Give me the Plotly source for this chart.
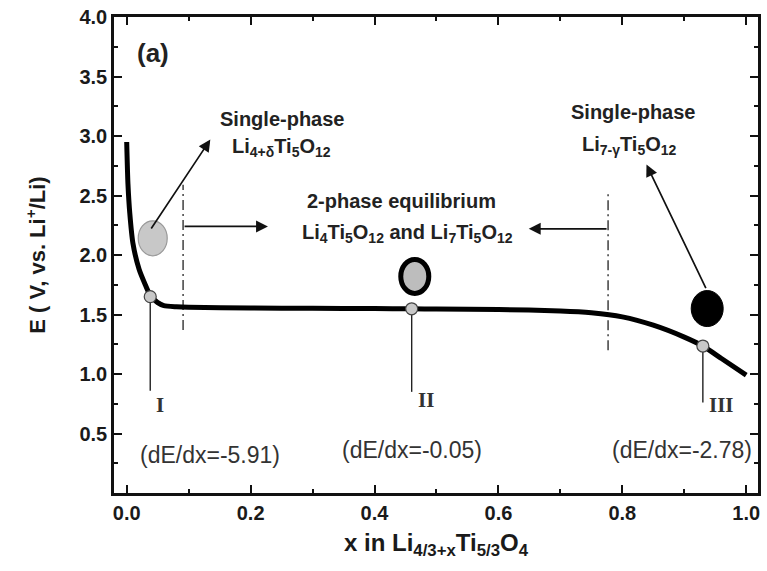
import plotly.graph_objects as go

# Discharge curve of Li4/3+x Ti5/3 O4: composition x vs. potential E
x_vals = [0.0, 0.002, 0.005, 0.01, 0.02, 0.03, 0.038, 0.05, 0.06, 0.08, 0.1,
          0.2, 0.3, 0.4, 0.46, 0.5, 0.6, 0.7, 0.75, 0.8, 0.85, 0.9, 0.93,
          0.96, 1.0]
E_vals = [2.95, 2.6, 2.35, 2.1, 1.88, 1.75, 1.66, 1.6, 1.575, 1.565, 1.56,
          1.555, 1.552, 1.55, 1.548, 1.546, 1.542, 1.53, 1.515, 1.48, 1.41,
          1.31, 1.235, 1.13, 0.99]

# Characteristic points I, II, III and their slopes
pt_labels = ["I", "II", "III"]
pt_x = [0.038, 0.46, 0.93]
pt_E = [1.65, 1.548, 1.235]
pt_line_end = [0.86, 0.85, 0.76]
pt_label_E = [0.74, 0.78, 0.74]
slopes = [-5.91, -0.05, -2.78]
slope_x = [0.134, 0.46, 0.897]
slope_E = [0.32, 0.36, 0.36]

# Phase symbols near each region
phase_x = [0.042, 0.465, 0.937]
phase_E = [2.14, 1.82, 1.55]

# Two-phase boundaries
boundary_x = [0.091, 0.777]
boundary_top = [2.59, 2.53]
boundary_bottom = [1.37, 1.2]

x_ticks = [0.0, 0.2, 0.4, 0.6, 0.8, 1.0]
y_ticks = [0.5, 1.0, 1.5, 2.0, 2.5, 3.0, 3.5, 4.0]

fig = go.Figure()

# Boundaries (dash-dot)
for bx, bt, bb in zip(boundary_x, boundary_top, boundary_bottom):
    fig.add_trace(go.Scatter(x=[bx, bx], y=[bb, bt], mode="lines",
                             line=dict(color="#222", width=1.3, dash="10px,4px,2px,4px"),
                             showlegend=False, hoverinfo="skip"))

# Drop lines from the characteristic points
for px, pe, pend in zip(pt_x, pt_E, pt_line_end):
    fig.add_trace(go.Scatter(x=[px, px], y=[pe, pend], mode="lines",
                             line=dict(color="#222", width=1.4),
                             showlegend=False, hoverinfo="skip"))

# Main curve
fig.add_trace(go.Scatter(x=x_vals, y=E_vals, mode="lines",
                         line=dict(color="black", width=5, shape="spline", smoothing=0.6),
                         showlegend=False))

# Points on the curve
fig.add_trace(go.Scatter(x=pt_x, y=pt_E, mode="markers",
                         marker=dict(size=12, color="#c8c8c8",
                                     line=dict(color="#444", width=1.2)),
                         showlegend=False))

# Phase symbols drawn as ellipses sized in pixels, anchored at data positions
phase_styles = [
    dict(fill="#c8c8c8", line="#999", lw=1.2, w=29, h=35),
    dict(fill="#bdbdbd", line="black", lw=5, w=28, h=34),
    dict(fill="black", line="black", lw=1, w=32, h=36),
]
for cx, ce, st in zip(phase_x, phase_E, phase_styles):
    fig.add_shape(type="circle", xref="x", yref="y",
                  xsizemode="pixel", ysizemode="pixel",
                  xanchor=cx, yanchor=ce,
                  x0=-st["w"] / 2, x1=st["w"] / 2, y0=-st["h"] / 2, y1=st["h"] / 2,
                  fillcolor=st["fill"], line=dict(color=st["line"], width=st["lw"]))

# Roman numeral labels
for px, lab, le in zip(pt_x, pt_labels, pt_label_E):
    fig.add_annotation(x=px, y=le, text=lab, showarrow=False, xanchor="left",
                       xshift=4,
                       font=dict(family="Liberation Serif", size=21, color="#333", weight="bold"))

# Slope labels
for sx, se, s in zip(slope_x, slope_E, slopes):
    fig.add_annotation(x=sx, y=se, text=f"(dE/dx={s:.2f})", showarrow=False,
                       font=dict(family="Liberation Sans", size=23, color="#333"))

# Arrows
arrows = [
    (0.038, 2.21, 0.135, 2.97),
    (0.091, 2.24, 0.228, 2.24),
    (0.777, 2.22, 0.649, 2.22),
    (0.936, 1.71, 0.839, 2.76),
]
for ax_, ay_, hx, hy in arrows:
    fig.add_annotation(x=hx, y=hy, ax=ax_, ay=ay_, xref="x", yref="y",
                       axref="x", ayref="y", text="", showarrow=True,
                       arrowhead=2, arrowsize=1.4, arrowwidth=1.7, arrowcolor="#111")

bold = dict(family="Liberation Sans", size=20, color="#222", weight="bold")
fig.add_annotation(x=0.25, y=3.14, text="Single-phase", showarrow=False, font=bold)
fig.add_annotation(x=0.25, y=2.90, text="Li<sub>4+δ</sub>Ti<sub>5</sub>O<sub>12</sub>",
                   showarrow=False, font=bold)
fig.add_annotation(x=0.443, y=2.45, text="2-phase equilibrium", showarrow=False, font=bold)
fig.add_annotation(x=0.454, y=2.18,
                   text="Li<sub>4</sub>Ti<sub>5</sub>O<sub>12</sub> and Li<sub>7</sub>Ti<sub>5</sub>O<sub>12</sub>",
                   showarrow=False, font=bold)
fig.add_annotation(x=0.817, y=3.20, text="Single-phase", showarrow=False, font=bold)
fig.add_annotation(x=0.812, y=2.92, text="Li<sub>7-γ</sub>Ti<sub>5</sub>O<sub>12</sub>",
                   showarrow=False, font=bold)
fig.add_annotation(x=0.042, y=3.70, text="(a)", showarrow=False,
                   font=dict(family="Liberation Sans", size=26, color="#222", weight="bold"))

axis_common = dict(showline=True, linecolor="#111", linewidth=2.5, mirror="ticks",
                   ticks="inside", ticklen=8, tickwidth=2, tickcolor="#111",
                   showgrid=False, zeroline=False,
                   tickfont=dict(family="Liberation Sans", size=20, color="#1a1a1a", weight="bold"))

fig.update_xaxes(range=[-0.0205, 1.019], tickvals=x_ticks,
                 ticktext=[f"{t:.1f}" for t in x_ticks],
                 minor=dict(dtick=0.1, tick0=0, ticks="inside", ticklen=4, tickwidth=2, tickcolor="#111"),
                 title=dict(text="x in Li<sub>4/3+x</sub>Ti<sub>5/3</sub>O<sub>4</sub>",
                            font=dict(family="Liberation Sans", size=24, color="#1a1a1a", weight="bold"),
                            standoff=12),
                 **axis_common)
fig.update_yaxes(range=[0, 4.0], tickvals=y_ticks,
                 ticktext=[f"{t:.1f}" for t in y_ticks],
                 minor=dict(dtick=0.25, tick0=0, ticks="inside", ticklen=4, tickwidth=2, tickcolor="#111"),
                 title=dict(text="E ( V, vs. Li<sup>+</sup>/Li)",
                            font=dict(family="Liberation Sans", size=22, color="#1a1a1a", weight="bold"),
                            standoff=28),
                 **axis_common)

fig.update_layout(width=767, height=571, margin=dict(l=114, r=6, t=17, b=78),
                  plot_bgcolor="white", paper_bgcolor="white")

fig.write_html("out.html")
